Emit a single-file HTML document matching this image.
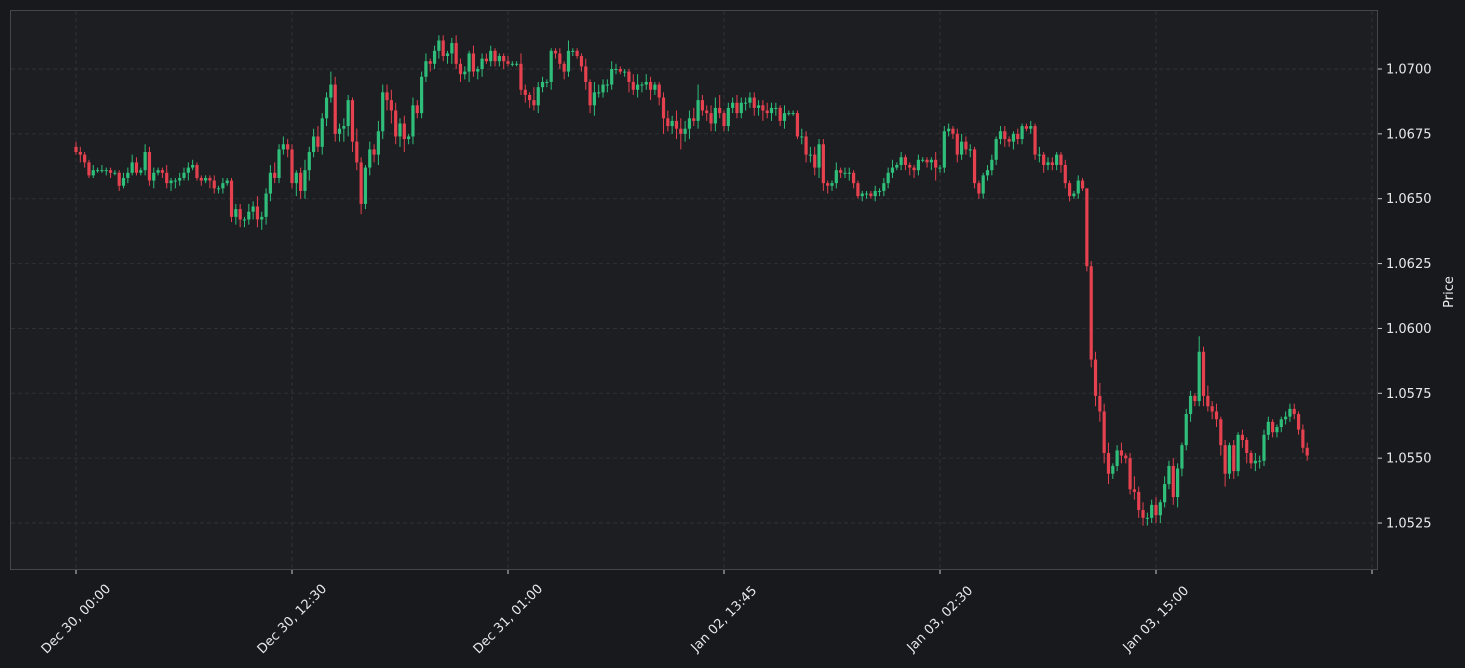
<!DOCTYPE html>
<html><head><meta charset="utf-8"><style>
html,body{margin:0;padding:0;background:#17191d;}
svg{display:block;font-family:"DejaVu Sans","Liberation Sans",sans-serif;}
</style></head><body>
<svg id="chart" width="1465" height="668" viewBox="0 0 1465 668" xmlns="http://www.w3.org/2000/svg">
<rect x="0" y="0" width="1465" height="668" fill="#17191d"/>
<rect x="10.5" y="10.5" width="1367" height="559" fill="#1c1e22" stroke="#44464a"/>
<g id="grid"></g>
<g id="candles"></g>
<g id="yaxis"></g>
<g id="xaxis"></g>
<text x="1453" y="292" fill="#e8e8e8" font-size="13" text-anchor="middle" transform="rotate(-90 1453 292)">Price</text>
</svg>
<script>
// closes in pips above 1.0500 (e.g. 170 => 1.0670); open = previous close
const closes = [168,167,164,159,161,161,161,161,160,160,155,158,160,164,160,161,168,157,160,161,
160,156,157,157,158,160,162,163,158,157,158,157,154,154,156,157,143,146,142,142,
145,147,142,143,152,160,158,169,171,169,156,160,153,161,168,174,170,181,189,194,
175,177,178,188,172,164,148,162,169,167,176,191,188,184,174,179,173,174,186,183,
197,203,202,207,211,205,206,210,202,198,199,206,199,200,204,203,207,203,205,203,
202,202,202,192,190,188,186,193,195,195,207,206,202,199,207,207,205,201,195,186,
191,191,194,194,200,200,199,199,195,192,194,194,195,192,194,189,181,178,180,177,
175,177,181,180,188,184,183,179,185,183,178,185,187,183,187,187,189,185,186,184,
183,185,185,180,183,183,183,174,174,167,167,162,171,156,155,156,161,160,160,160,
156,151,152,152,151,153,153,156,160,162,163,166,163,162,161,165,165,164,165,162,
162,176,177,175,167,172,169,169,156,152,159,161,165,173,176,173,172,175,173,178,
177,178,167,167,163,164,163,167,163,156,151,152,157,154,124,88,74,68,52,44,
47,53,51,50,38,37,30,27,27,32,28,33,40,47,35,46,55,67,74,72,
91,74,70,68,65,55,44,55,45,59,57,52,48,49,49,59,64,60,62,65,
66,69,67,61,54,51];
const firstOpen = 170;
const wickUp = [2,2,1,1,2,1,2,1,1,1,1,2,2,3,2,1,3,2,2,1,
1,3,1,1,2,2,2,2,1,1,1,1,2,1,2,1,1,2,2,1,
3,2,4,2,2,3,4,2,3,2,2,1,2,4,2,3,4,2,2,5,
3,2,3,2,1,5,2,1,3,2,4,3,3,4,3,2,3,1,3,2,
2,3,1,2,2,2,1,2,3,2,2,1,3,1,2,2,2,1,1,1,
2,1,1,4,2,1,5,2,2,1,1,1,2,1,4,1,1,1,3,1,
4,3,2,2,3,2,1,1,1,3,4,1,3,2,1,1,2,3,2,4,
4,3,3,4,6,2,2,3,4,5,1,2,2,3,2,2,2,2,2,2,
3,2,2,1,3,1,1,1,3,2,3,3,2,2,1,1,3,1,2,2,
1,1,1,1,1,2,1,2,2,3,1,2,1,1,1,2,1,1,1,3,
1,2,2,1,2,3,2,2,1,1,1,2,2,1,2,2,1,1,2,1,
1,2,1,3,1,2,2,1,1,2,1,1,2,1,0,2,3,5,3,4,
1,2,3,1,2,5,2,3,2,2,3,1,3,2,3,2,1,2,2,1,
6,2,4,2,3,1,2,1,2,1,2,1,1,3,2,2,2,1,1,1,
2,2,2,1,2,2];
const wickDown = [1,3,2,1,1,1,1,2,2,1,2,1,2,1,1,1,2,2,3,1,
2,2,3,3,2,1,3,1,1,2,1,3,2,2,2,1,2,3,3,3,
2,3,3,4,3,3,2,2,2,3,2,5,3,3,4,2,2,3,3,2,
3,3,5,4,4,3,4,2,3,3,4,3,4,5,3,4,5,2,3,2,
2,2,3,2,3,2,3,4,2,3,2,4,2,3,3,1,2,2,2,3,
1,1,1,2,3,3,2,3,2,2,3,2,2,3,2,2,1,2,3,3,
4,2,2,3,2,2,1,2,4,2,3,3,2,4,2,3,6,2,3,4,
6,3,4,2,3,2,3,3,3,2,2,2,2,2,2,3,2,3,3,4,
2,3,3,2,3,1,1,1,3,3,3,3,4,3,3,2,2,2,2,3,
2,1,2,2,1,2,2,2,2,2,1,2,2,3,3,2,1,2,3,5,
2,2,2,2,3,2,2,3,2,2,2,2,2,2,2,3,2,3,2,2,
1,2,2,3,3,2,2,2,3,2,2,1,2,1,2,3,4,4,4,4,
2,2,3,2,2,3,3,3,3,2,3,3,2,2,3,4,3,2,3,2,
2,4,2,3,3,4,5,2,3,2,3,4,2,3,3,2,2,2,2,2,
2,2,2,2,2,2];
const yTicks = [25,50,75,100,125,150,175,200];
const xTickIdx = [0,50,100,150,200,250,300];
const xTickLabels = ["Dec 30, 00:00","Dec 30, 12:30","Dec 31, 01:00","Jan 02, 13:45","Jan 03, 02:30","Jan 03, 15:00",""];

const NS = "http://www.w3.org/2000/svg";
function xs(i){ return 76 + i*4.32; }
function ys(p){ return 69 + (200 - p)*2.5944; }
function mk(tag, attrs, parent){ const e=document.createElementNS(NS,tag); for(const k in attrs) e.setAttribute(k,attrs[k]); parent.appendChild(e); return e; }
const grid=document.getElementById('grid'), cg=document.getElementById('candles'), ya=document.getElementById('yaxis'), xa=document.getElementById('xaxis');

yTicks.forEach(p=>{
  const y=ys(p);
  const gl=mk('line',{x1:11,x2:1377,y1:y,y2:y,stroke:'#2f3136','stroke-dasharray':'4,3','stroke-width':1},grid);
  
  
  const tk=mk('line',{x1:1378,x2:1382,y1:y,y2:y,stroke:'#cccccc'},ya);
  
  
  const t=mk('text',{x:1386,y:y+4.5,fill:'#e8e8e8','font-size':13},ya);
  t.textContent=(1.05+p/10000).toFixed(4);
  
  
});
xTickIdx.forEach((idx,k)=>{
  const x=xs(idx);
  const gl=mk('line',{x1:x,x2:x,y1:11,y2:569,stroke:'#2f3136','stroke-dasharray':'4,3','stroke-width':1},grid);
  
  
  const tk=mk('line',{x1:x,x2:x,y1:570,y2:574,stroke:'#cccccc'},xa);
  
  
  if(xTickLabels[k]){
    const t=mk('text',{x:x,y:623,fill:'#e8e8e8','font-size':13,'text-anchor':'middle',transform:`rotate(-45 ${x} 619)`},xa);
    t.textContent=xTickLabels[k];
    
    
  }
});
let prev=firstOpen;
closes.forEach((c,i)=>{
  const o=prev, x=xs(i);
  const up=c>=o, col=up?'#2fbf7a':'#e5414f';
  const hi=Math.max(o,c)+wickUp[i], lo=Math.min(o,c)-wickDown[i];
  const w=mk('line',{x1:x,x2:x,y1:ys(hi),y2:ys(lo),stroke:col,'stroke-width':1},cg);
  
  
  const top=ys(Math.max(o,c)), h=Math.max(1,ys(Math.min(o,c))-top);
  const b=mk('rect',{x:x-1.6,y:top,width:3.2,height:h,fill:col},cg);
  
  
  prev=c;
});
</script>
</body></html>
